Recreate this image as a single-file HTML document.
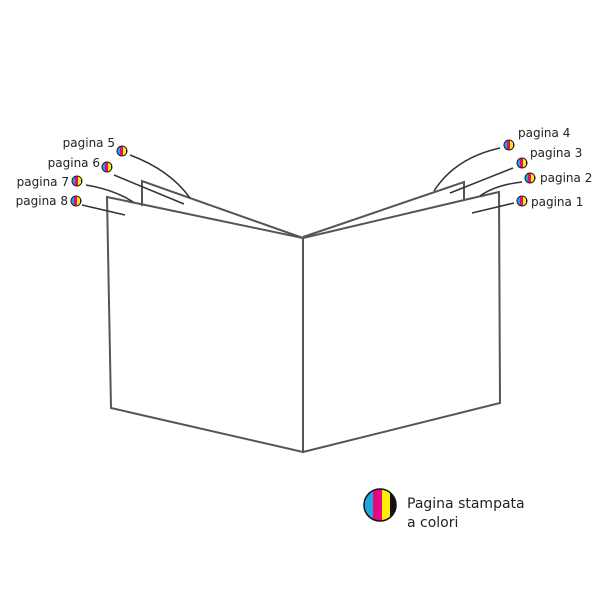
<!DOCTYPE html>
<html><head><style>body{margin:0;background:#fff}svg{display:block}text{font-family:"DejaVu Sans","Liberation Sans",sans-serif;fill:#222}</style></head>
<body>
<svg width="600" height="600" viewBox="0 0 600 600">
<defs>
<clipPath id="c"><circle cx="0" cy="0" r="5"/></clipPath>
<g id="d"><g clip-path="url(#c)"><rect x="-5" y="-5" width="3" height="10" fill="#1ea7e1"/><rect x="-2" y="-5" width="3" height="10" fill="#e5097f"/><rect x="1" y="-5" width="3" height="10" fill="#ffed00"/><rect x="4" y="-5" width="2" height="10" fill="#111"/></g><circle r="5" fill="none" stroke="#222" stroke-width="1"/></g>
<clipPath id="c2"><circle cx="0" cy="0" r="16"/></clipPath>
</defs>
<g fill="none" stroke="#555" stroke-width="2">
<path d="M142,206 L142,181 L303,238"/>
<path d="M303,237 L464,182 L464,199"/>
<path d="M107,197 L303,238 L303,452 L111,408 Z"/>
<path d="M303,238 L477,197 L499,192 L500,403 L303,452"/>
</g>
<g fill="none" stroke="#333" stroke-width="1.5">
<path d="M130,155 Q170,170 190,198"/>
<path d="M114,175 L184,204"/>
<path d="M86,185 Q115,190 133,202"/>
<path d="M82,205 L125,215"/>
<path d="M500,148 Q455,158 434,191"/>
<path d="M513,168 L450,193"/>
<path d="M522,182 Q495,185 480,196"/>
<path d="M514,203 L472,213"/>
</g>
<use href="#d" x="122" y="151"/>
<use href="#d" x="107" y="167"/>
<use href="#d" x="77" y="181"/>
<use href="#d" x="76" y="201"/>
<use href="#d" x="509" y="145"/>
<use href="#d" x="522" y="163"/>
<use href="#d" x="530" y="178"/>
<use href="#d" x="522" y="201"/>
<g font-size="12">
<text x="115" y="147" text-anchor="end">pagina 5</text>
<text x="100" y="167" text-anchor="end">pagina 6</text>
<text x="69" y="186" text-anchor="end">pagina 7</text>
<text x="68" y="205" text-anchor="end">pagina 8</text>
<text x="518" y="137">pagina 4</text>
<text x="530" y="157">pagina 3</text>
<text x="540" y="182">pagina 2</text>
<text x="531" y="206">pagina 1</text>
</g>
<g transform="translate(380,505)">
<g clip-path="url(#c2)"><rect x="-16" y="-16" width="9" height="32" fill="#1ea7e1"/><rect x="-7" y="-16" width="9" height="32" fill="#e5097f"/><rect x="2" y="-16" width="8" height="32" fill="#ffed00"/><rect x="10" y="-16" width="6" height="32" fill="#111"/></g>
<circle r="16" fill="none" stroke="#111" stroke-width="1.5"/>
</g>
<text x="407" y="508" font-size="14">Pagina stampata</text>
<text x="407" y="527" font-size="14">a colori</text>
</svg>
</body></html>
